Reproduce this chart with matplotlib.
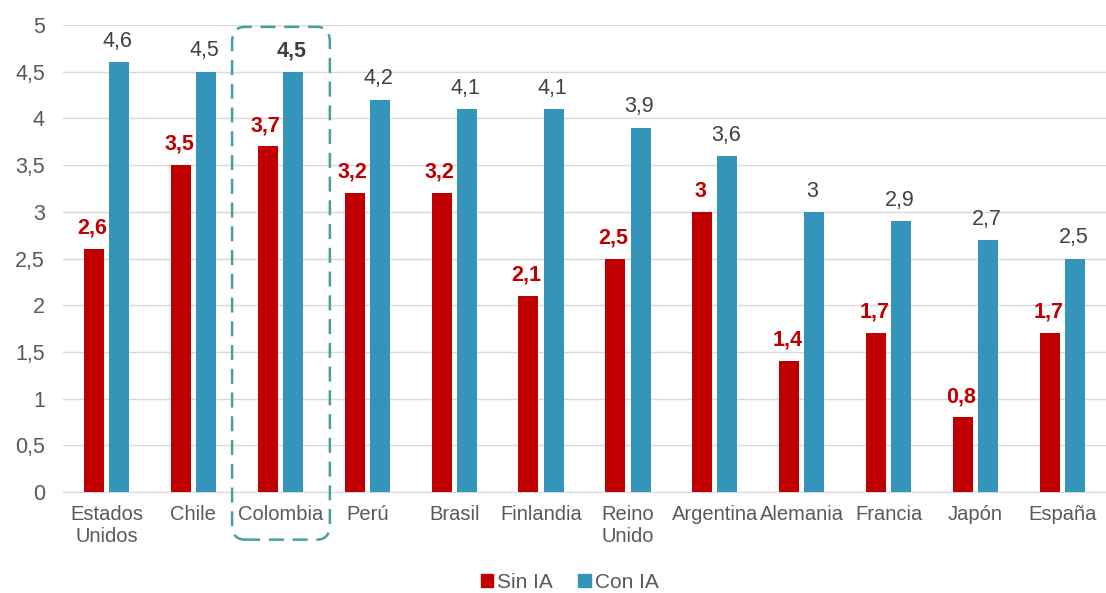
import matplotlib
matplotlib.use("Agg")
import matplotlib.pyplot as plt
import numpy as np
from matplotlib.patches import FancyBboxPatch, Patch

plt.rcParams["font.family"] = ["Liberation Sans", "DejaVu Sans"]

# Data
paises = ["Estados\nUnidos", "Chile", "Colombia", "Perú", "Brasil", "Finlandia",
          "Reino\nUnido", "Argentina", "Alemania", "Francia", "Japón", "España"]
sin_ia = [2.6, 3.5, 3.7, 3.2, 3.2, 2.1, 2.5, 3.0, 1.4, 1.7, 0.8, 1.7]
con_ia = [4.6, 4.5, 4.5, 4.2, 4.1, 4.1, 3.9, 3.6, 3.0, 2.9, 2.7, 2.5]
y_ticks = [0, 0.5, 1, 1.5, 2, 2.5, 3, 3.5, 4, 4.5, 5]

RED = "#C00000"
BLUE = "#3494BA"
GRAY = "#595959"

def fmt(v):
    s = ("%.1f" % v).rstrip("0").rstrip(".")
    return s.replace(".", ",")

fig = plt.figure(figsize=(11.06, 5.93), dpi=100)
ax = fig.add_axes([0.057, 0.1703, 0.943, 0.7875])

x = np.arange(len(paises))
w = 0.23
off = 0.145
ax.bar(x - off, sin_ia, w, color=RED, zorder=3)
ax.bar(x + off, con_ia, w, color=BLUE, zorder=3)

for i, v in enumerate(sin_ia):
    ax.text(x[i] - off - 0.02, v + 0.11, fmt(v), ha="center", va="bottom",
            color=RED, fontsize=15.5, fontweight="bold")
for i, v in enumerate(con_ia):
    bold = paises[i] == "Colombia"
    ax.text(x[i] + off - 0.02, v + 0.11, fmt(v), ha="center", va="bottom",
            color="#404040", fontsize=15.5, fontweight="bold" if bold else "normal")

ax.set_xlim(-0.5, len(paises) - 0.5)
ax.set_ylim(0, 5)
ax.set_yticks(y_ticks)
ax.set_yticklabels([fmt(t) for t in y_ticks], color=GRAY, fontsize=15.5)
ax.set_xticks(x)
ax.set_xticklabels(paises, color=GRAY, fontsize=14.5, linespacing=1.2)
ax.tick_params(length=0, pad=9)
ax.tick_params(axis="y", pad=13)
ax.grid(axis="y", color="#D9D9D9", linewidth=1, zorder=0)
for s in ["top", "right", "left"]:
    ax.spines[s].set_visible(False)
ax.spines["bottom"].set_color("#D9D9D9")

# Colombia highlight box
box = FancyBboxPatch((1.445, -0.51), 1.125, 5.49,
                     boxstyle="round,pad=0,rounding_size=0.15",
                     mutation_aspect=1.0 / (86.9 / 93.4),
                     fill=False, edgecolor="#4A9E9E", linewidth=1.8,
                     linestyle=(0, (6, 3.5)), clip_on=False, zorder=4)
ax.add_patch(box)

handles = [Patch(color=RED, label="Sin IA"), Patch(color=BLUE, label="Con IA")]
fig.legend(handles=handles, loc="center", bbox_to_anchor=(0.515, 0.018),
           ncol=2, frameon=False, fontsize=15, handlelength=0.6,
           handleheight=0.6, handletextpad=0.2, columnspacing=1.2,
           labelcolor=GRAY)

fig.savefig("out.png", dpi=100)
